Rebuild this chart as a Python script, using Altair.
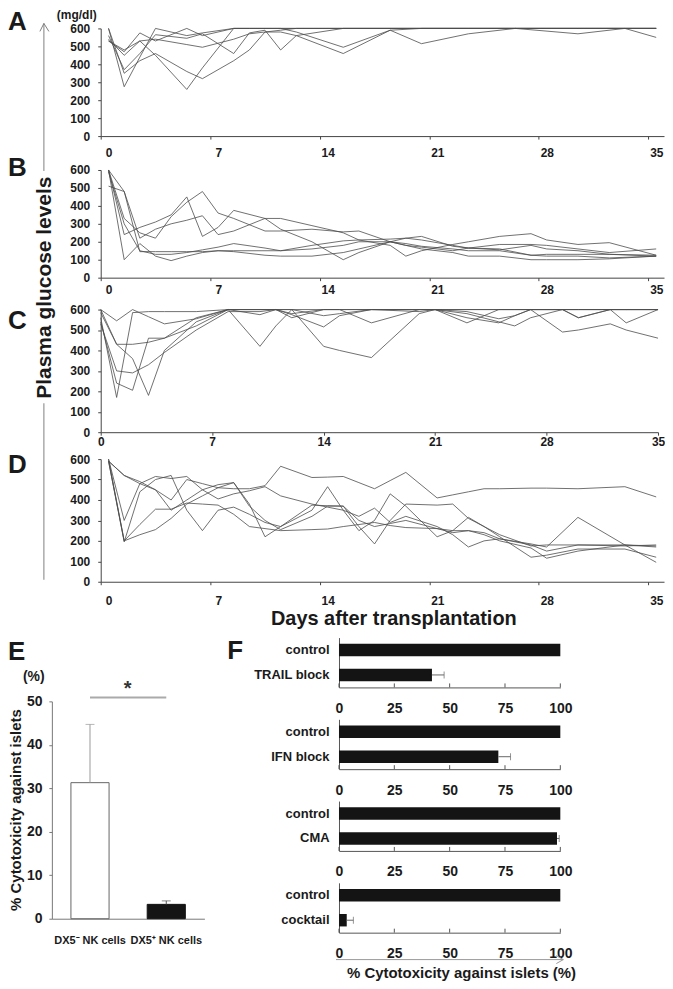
import altair as alt
import pandas as pd

FONT = "Liberation Sans"
INK = "#1a1a1a"
LINE = "#4d4d4d"

DAY_TICKS = [0, 7, 14, 21, 28, 35]
GLUCOSE_TICKS = [0, 100, 200, 300, 400, 500, 600]

# ---------------- Panel A ----------------
A_DAYS = [0, 1, 2, 3, 5, 6, 8, 9, 10, 11, 12, 15, 18, 20, 23, 26, 30, 33, 35]
A_MICE = [
    [600, 275, 440, 600, 560, 575, 600, 600, 600, 600, 600, 600, 600, 600, 600, 600, 600, 600, 600],
    [530, 480, 530, 450, 260, 380, 600, 600, 600, 600, 600, 600, 600, 600, 600, 600, 600, 600, 600],
    [600, 350, 420, 460, 360, 320, 420, 480, 580, 590, 600, 600, 600, 600, 600, 600, 600, 600, 600],
    [540, 450, 530, 540, 510, 495, 540, 570, 580, 580, 560, 460, 590, 600, 600, 600, 600, 600, 600],
    [560, 370, 460, 565, 545, 570, 460, 575, 590, 480, 560, 600, 600, 600, 600, 600, 600, 600, 600],
    [530, 470, 575, 530, 600, 560, 600, 600, 600, 600, 580, 495, 590, 515, 570, 600, 570, 600, 550],
]

# ---------------- Panel B ----------------
B_DAYS = [0, 1, 2, 3, 4, 5, 6, 7, 8, 10, 11, 13, 15, 16, 18, 19, 20, 22, 23, 25, 27, 28, 30, 32, 35]
B_MICE = [
    [600, 480, 145, 145, 145, 145, 145, 150, 150, 150, 150, 160, 180, 200, 200, 190, 175, 160, 150, 150, 125, 120, 120, 110, 120],
    [600, 100, 190, 120, 95, 120, 140, 150, 145, 125, 120, 120, 140, 160, 200, 180, 160, 140, 120, 120, 100, 100, 100, 105, 120],
    [600, 240, 280, 310, 350, 450, 230, 280, 375, 330, 270, 200, 100, 140, 200, 180, 170, 150, 165, 155, 180, 160, 150, 130, 120],
    [510, 480, 220, 270, 300, 320, 345, 240, 260, 330, 330, 290, 250, 210, 180, 120, 150, 185, 200, 230, 245, 210, 185, 195, 125],
    [600, 330, 250, 220, 340, 420, 480, 360, 330, 260, 260, 270, 255, 260, 200, 220, 230, 175, 165, 160, 125, 130, 130, 130, 125],
    [590, 300, 150, 130, 130, 140, 155, 170, 190, 165, 150, 180, 205, 210, 215, 220, 210, 180, 165, 185, 185, 180, 160, 140, 160],
]

# ---------------- Panel C ----------------
C_DAYS = [0, 1, 2, 3, 4, 6, 8, 10, 11, 12, 14, 15, 17, 20, 21, 23, 25, 26, 27, 29, 30, 32, 33, 35]
C_MICE = [
    [600, 545, 600, 565, 530, 555, 600, 600, 600, 600, 600, 600, 600, 600, 600, 600, 600, 600, 600, 600, 600, 600, 600, 600],
    [585, 430, 430, 440, 460, 560, 600, 575, 600, 560, 600, 600, 535, 600, 600, 580, 540, 520, 560, 600, 560, 600, 535, 600],
    [560, 170, 585, 590, 590, 590, 600, 600, 600, 580, 600, 600, 600, 600, 600, 590, 555, 570, 600, 600, 600, 600, 600, 600],
    [540, 240, 205, 460, 460, 520, 600, 420, 520, 600, 570, 580, 600, 590, 600, 560, 535, 570, 600, 490, 500, 530, 500, 460],
    [530, 300, 290, 330, 390, 500, 590, 590, 600, 600, 420, 400, 365, 580, 600, 600, 600, 600, 600, 600, 600, 600, 600, 600],
    [600, 430, 360, 180, 400, 540, 600, 600, 600, 575, 515, 570, 600, 600, 600, 535, 600, 600, 600, 600, 560, 600, 600, 600],
]

# ---------------- Panel D ----------------
D_DAYS = [0, 1, 2, 3, 4, 5, 6, 7, 8, 9, 10, 11, 13, 14, 15, 16, 17, 18, 19, 21, 22, 23, 24, 25, 27, 28, 30, 33, 35]
D_MICE = [
    [590, 520, 480, 450, 400, 500, 480, 460, 455, 455, 470, 565, 510, 512, 515, 485, 455, 495, 535, 410, 425, 440, 455, 455, 458, 458, 455, 465, 415],
    [600, 300, 480, 515, 505, 515, 450, 475, 485, 370, 300, 255, 320, 370, 370, 300, 270, 285, 300, 260, 250, 250, 240, 210, 180, 150, 180, 180, 175],
    [590, 195, 440, 500, 520, 350, 250, 350, 365, 330, 290, 270, 350, 465, 350, 250, 300, 430, 370, 220, 250, 315, 270, 230, 175, 180, 180, 175, 180],
    [590, 200, 280, 355, 355, 385, 380, 375, 330, 270, 260, 250, 255, 258, 270, 280, 290, 275, 265, 260, 240, 250, 230, 200, 165, 115, 150, 180, 95],
    [600, 200, 230, 255, 310, 380, 420, 460, 485, 380, 220, 270, 375, 372, 370, 270, 185, 300, 380, 375, 380, 310, 270, 220, 120, 130, 160, 160, 120],
    [590, 520, 490, 450, 350, 400, 450, 405, 430, 445, 465, 420, 380, 365, 350, 320, 360, 290, 320, 270, 230, 170, 200, 210, 185, 170, 315, 180, 170],
]

# ---------------- Panel E ----------------
E_GROUPS = ["DX5⁻ NK cells", "DX5⁺ NK cells"]
E_MEAN = [31.3, 3.3]
E_SD = [13.4, 0.8]
E_TICKS = [0, 10, 20, 30, 40, 50]

# ---------------- Panel F ----------------
F_GROUPS = [["control", "TRAIL block"], ["control", "IFN block"], ["control", "CMA"], ["control", "cocktail"]]
F_MEAN = [[100, 42], [100, 72], [100, 98.5], [100, 3.5]]
F_SD = [[0, 5.5], [0, 5.5], [0, 1.0], [0, 3.0]]
F_TICKS = [0, 25, 50, 75, 100]

ONE = pd.DataFrame({"k": [0]})


def seg(x1, y1, x2, y2, color="#777777", width=1.0, opacity=1.0):
    return alt.Chart(ONE).mark_rule(color=color, strokeWidth=width, strokeOpacity=opacity).encode(
        x=alt.value(x1), y=alt.value(y1), x2=alt.value(x2), y2=alt.value(y2))


def label(text, x, y, size, align="left", baseline="alphabetic", angle=0, color=INK):
    kw = dict(text=text, font=FONT, fontWeight="bold", fontSize=size, color=color,
              align=align, baseline=baseline)
    if angle:
        kw["angle"] = angle
    return alt.Chart(ONE).mark_text(**kw).encode(x=alt.value(x), y=alt.value(y))


LEFT = 49     # horizontal offset of the glucose plots inside their rows
ROW_W = 614


def glucose_panel(days, mice, top, plot_h, centered, label_pad, extras):
    rows = [{"mouse": f"m{i}", "day": d, "glucose": v}
            for i, vals in enumerate(mice) for d, v in zip(days, vals)]
    df = pd.DataFrame(rows)
    if centered:
        domain, span, shift, loff = [0, 36], 565, 0.5, 8
    else:
        domain, span, shift, loff = [0, 35], 559, 0, 0
    height = top + plot_h
    lines = alt.Chart(df).transform_calculate(xpos=f"datum.day + {shift}").mark_line(
        color=LINE, strokeWidth=0.8).encode(
        x=alt.X("xpos:Q", scale=alt.Scale(domain=domain, nice=False, zero=False,
                                          range=[LEFT, LEFT + span]),
                axis=alt.Axis(values=DAY_TICKS, tickSize=3, labelPadding=label_pad,
                              labelOffset=loff, labelFlush=False, title=None)),
        y=alt.Y("glucose:Q", scale=alt.Scale(domain=[0, 600], nice=False, range=[height, top]),
                axis=alt.Axis(values=GLUCOSE_TICKS, tickSize=3, labelPadding=8, title=None,
                              offset=-LEFT)),
        detail="mouse:N",
    )
    return alt.layer(lines, *extras).properties(width=ROW_W, height=height)


a_extras = [
    seg(-44, -19, -43, -18, opacity=0),  # layout anchor (top-left of the figure)
    label("A", -44, 2, 26),
    label("(mg/dl)", 5, -9, 12),
    seg(-8, -5, -8, 143, "#808080", 1),
    seg(-8, 376, -8, 553, "#808080", 1),
    seg(-12, 3, -8, -5, "#808080", 1),
    seg(-8, -5, -3, 3, "#808080", 1),
    label("Plasma glucose levels", -7, 260, 21, align="center", baseline="middle", angle=270),
]
chart_a = glucose_panel(A_DAYS, A_MICE, 0, 108, True, 8, a_extras)
chart_b = glucose_panel(B_DAYS, B_MICE, 34, 108, True, 4, [label("B", -44, 40, 26)])
chart_c = glucose_panel(C_DAYS, C_MICE, 32, 123, False, 1, [label("C", -44, 51, 26)])
chart_d = glucose_panel(D_DAYS, D_MICE, 27, 123, True, 11, [
    label("D", -44, 41, 26),
    label("Days after transplantation", 343, 193, 20, align="center"),
])

# ---------------- E chart ----------------
E_H = 338
e_df = pd.DataFrame({"group": E_GROUPS, "mean": E_MEAN, "sd": E_SD})
ex = alt.X("group:N", sort=E_GROUPS,
           scale=alt.Scale(paddingInner=0.5, paddingOuter=0.25),
           axis=alt.Axis(ticks=False, labelAngle=0, labelPadding=16, labelFontSize=11,
                         domainColor="#777777", labelOverlap=False, title=None))
ey = alt.Y("mean:Q", scale=alt.Scale(domain=[0, 50], nice=False, range=[E_H, 120]),
           axis=alt.Axis(values=E_TICKS, tickSize=3, labelPadding=7, labelFontSize=14,
                         domainColor="#777777", tickColor="#777777", title=None))
e_bars = alt.Chart(e_df).mark_bar(strokeWidth=1).encode(
    x=ex, y=ey,
    fill=alt.Fill("group:N", scale=alt.Scale(domain=E_GROUPS, range=["#ffffff", "#141414"]), legend=None),
    stroke=alt.Stroke("group:N", scale=alt.Scale(domain=E_GROUPS, range=["#666666", "#141414"]), legend=None),
)
e_err_base = alt.Chart(e_df).transform_calculate(top="datum.mean + datum.sd")
e_color = alt.Color("group:N", scale=alt.Scale(domain=E_GROUPS, range=["#9a9a9a", "#555555"]), legend=None)
e_err = e_err_base.mark_rule(strokeWidth=1).encode(
    x=alt.X("group:N", sort=E_GROUPS), y="mean:Q", y2="top:Q", color=e_color)
e_cap = e_err_base.mark_tick(size=9, thickness=1).encode(
    x=alt.X("group:N", sort=E_GROUPS), y="top:Q", color=e_color)
e_sig = alt.Chart(ONE).mark_rule(color="#aaaaaa", strokeWidth=2).encode(
    x=alt.datum(E_GROUPS[0]), x2=alt.datum(E_GROUPS[1]), y=alt.value(116))
chart_e = alt.layer(
    e_bars, e_err, e_cap, e_sig,
    label("*", 76, 114, 20, align="center", color="#333333"),
    label("E", -44, 79, 26),
    label("(%)", -29, 100, 14),
    label("% Cytotoxicity against islets", -43, 229, 15, align="center", baseline="top", angle=270),
).properties(width=153, height=E_H)


# ---------------- F charts ----------------
def f_panel(groups, means, sds, extras):
    df = pd.DataFrame({"group": groups, "mean": means, "sd": sds})
    fy = alt.Y("group:N", sort=groups,
               scale=alt.Scale(paddingInner=0.5, paddingOuter=0.25),
               axis=alt.Axis(ticks=False, labelPadding=10, labelFontSize=13, title=None,
                             domainColor="#555555"))
    fx = alt.X("mean:Q", scale=alt.Scale(domain=[0, 100], nice=False),
               axis=alt.Axis(values=F_TICKS, ticks=False, labelPadding=14, labelFontSize=14,
                             labelFlush=False, title=None, domainColor="#555555"))
    bars = alt.Chart(df).mark_bar(color="#141414").encode(x=fx, y=fy)
    eb = alt.Chart(df).transform_filter("datum.sd > 0").transform_calculate(hi="datum.mean + datum.sd")
    err = eb.mark_rule(color="#666666", strokeWidth=1).encode(
        x="mean:Q", x2="hi:Q", y=alt.Y("group:N", sort=groups))
    cap = eb.mark_tick(color="#666666", size=7, thickness=1).encode(
        x="hi:Q", y=alt.Y("group:N", sort=groups))
    ticks = alt.Chart(pd.DataFrame({"t": F_TICKS})).mark_rule(color="#555555").encode(
        x="t:Q", y=alt.value(50), y2=alt.value(46))
    return alt.layer(bars, err, cap, ticks, *extras).properties(width=222, height=50)


f_charts = []
for i in range(4):
    extras = []
    if i == 0:
        extras.append(label("F", -112, 21, 26))
    if i == 3:
        extras += [
            seg(-3, 77, 225, 77, "#9a9a9a", 1),
            seg(218, 73, 225, 77, "#9a9a9a", 1),
            seg(218, 81, 225, 77, "#9a9a9a", 1),
            label("% Cytotoxicity against islets  (%)", 8, 95, 15),
        ]
    f_charts.append(f_panel(F_GROUPS[i], F_MEAN[i], F_SD[i], extras))


def spacer(w, h):
    return alt.Chart(ONE).mark_rule(strokeOpacity=0).encode(
        x=alt.value(0), x2=alt.value(1), y=alt.value(0)).properties(width=w, height=h)


f_col = alt.vconcat(spacer(1, 24), *f_charts, spacing=32, bounds="flush")
bottom = alt.hconcat(chart_e, f_col, spacing=135, bounds="flush")

chart = alt.vconcat(chart_a, chart_b, chart_c, chart_d, bottom, spacing=0, bounds="flush").properties(
    padding=0
).configure_view(strokeWidth=0).configure_axis(
    labelFont=FONT, labelFontWeight="bold", labelColor=INK, labelFontSize=12,
    grid=False, domainColor="#444444", tickColor="#444444",
)

chart.save("out.html", embed_options={"renderer": "svg", "actions": False})
